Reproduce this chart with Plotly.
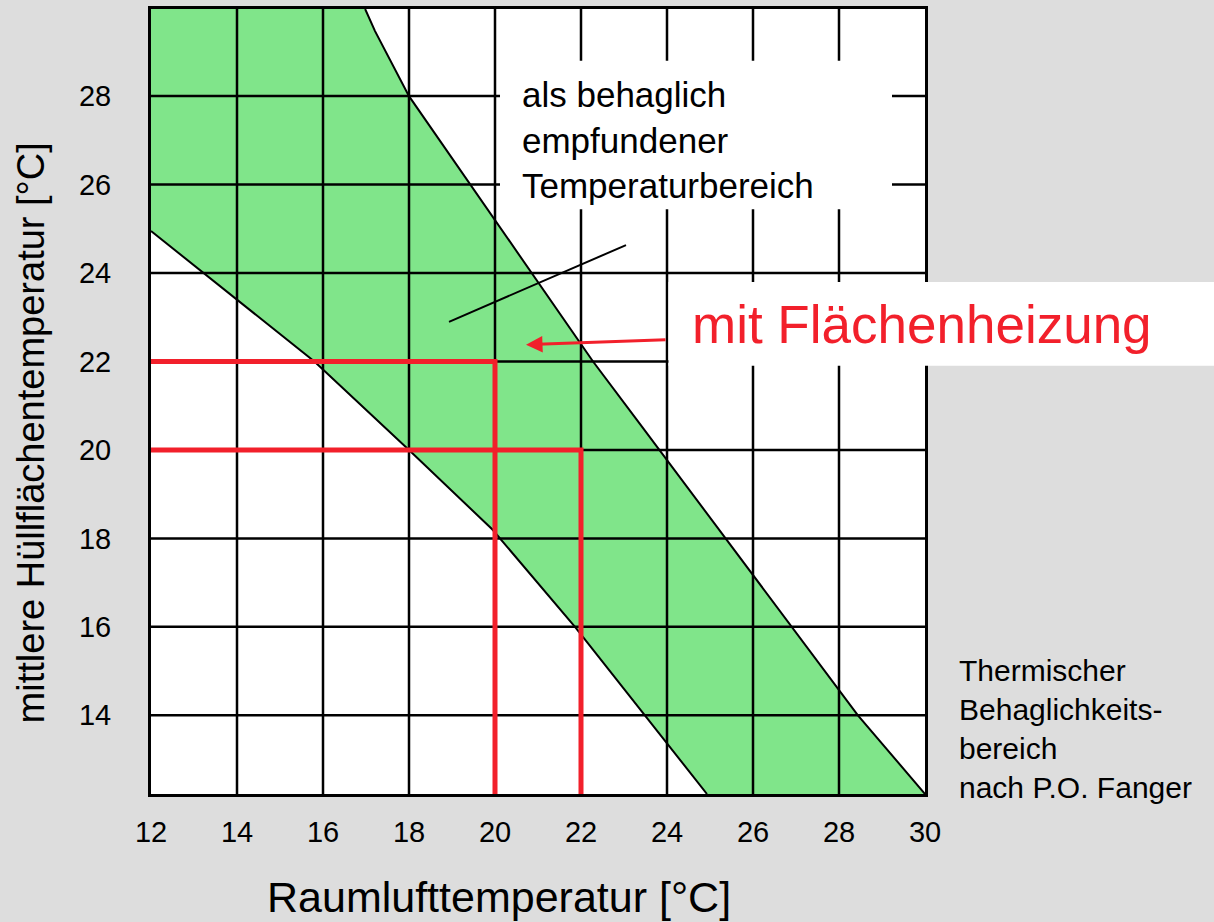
import plotly.graph_objects as go

# ---- data ----
x_ticks = [12, 14, 16, 18, 20, 22, 24, 26, 28, 30]
y_ticks = [14, 16, 18, 20, 22, 24, 26, 28]
x_range = [12, 30]
y_range = [12.22, 29.97]

# upper boundary of comfort zone (Raumluft, Hüllfläche)
upper_x = [16.98, 17.21, 18.0, 22.28, 23.4, 26.9, 28.44, 30.0]
upper_y = [29.97, 29.47, 28.0, 22.0, 20.55, 16.0, 14.0, 12.22]
# lower boundary of comfort zone
lower_x = [12.0, 15.8, 18.0, 19.94, 21.86, 23.49, 24.93]
lower_y = [24.95, 22.0, 20.0, 18.2, 16.0, 14.0, 12.22]

# red operating points (Raumluft, Hüllfläche)
red_air = [20, 22]
red_surface = [22, 20]

FONT = "Liberation Sans, Arial, sans-serif"
GREEN = "#80E58A"
RED = "#F2202B"
BG = "#DDDDDD"

fig = go.Figure()

# green comfort area
poly_x = [x_range[0]] + upper_x + lower_x[::-1]
poly_y = [y_range[1]] + upper_y + lower_y[::-1]
fig.add_trace(go.Scatter(x=poly_x, y=poly_y, fill="toself", fillcolor=GREEN,
                         mode="lines", line=dict(width=0), hoverinfo="skip"))

# grid drawn above the fill
gx, gy = [], []
for v in x_ticks[1:-1]:
    gx += [v, v, None]
    gy += [y_range[0], y_range[1], None]
for v in y_ticks:
    gx += [x_range[0], x_range[1], None]
    gy += [v, v, None]
fig.add_trace(go.Scatter(x=gx, y=gy, mode="lines", line=dict(color="black", width=2.5),
                         hoverinfo="skip"))

# boundary lines
fig.add_trace(go.Scatter(x=upper_x, y=upper_y, mode="lines", line=dict(color="black", width=2)))
fig.add_trace(go.Scatter(x=lower_x, y=lower_y, mode="lines", line=dict(color="black", width=2)))

# red lines
for a, s in zip(red_air, red_surface):
    fig.add_trace(go.Scatter(x=[x_range[0], a, a], y=[s, s, y_range[0]], mode="lines",
                             line=dict(color=RED, width=5)))

W, H = 1214, 922
ML, MR, MT, MB = 151, 289, 6, 128
PW, PH = W - ML - MR, H - MT - MB


def px(x):
    return (x - ML) / PW


def py(y):
    return (H - MB - y) / PH


shapes = [
    dict(type="rect", xref="paper", yref="paper", x0=px(500), x1=px(892), y0=py(207), y1=py(58),
         fillcolor="white", line=dict(width=0), layer="above"),
    dict(type="rect", xref="paper", yref="paper", x0=px(668.5), x1=px(1260), y0=py(364), y1=py(280),
         fillcolor="white", line=dict(width=0), layer="above"),
    dict(type="line", xref="paper", yref="paper", x0=px(626), y0=py(243), x1=px(449), y1=py(320),
         line=dict(color="black", width=2), layer="above"),
]

annotations = [
    dict(xref="paper", yref="paper", x=px(520), y=py(137), xanchor="left", yanchor="middle",
         align="left", showarrow=False,
         text="als behaglich<br>empfundener<br>Temperaturbereich",
         font=dict(family=FONT, size=35, color="black")),
    dict(xref="paper", yref="paper", x=px(690), y=py(323), xanchor="left", yanchor="middle",
         showarrow=False, text="mit Flächenheizung",
         font=dict(family=FONT, size=53, color=RED)),
    dict(xref="paper", yref="paper", x=px(526), y=py(343), text="", showarrow=True,
         ax=141, ay=-5, arrowhead=2, arrowsize=1.1, arrowwidth=3, arrowcolor=RED, standoff=0),
    dict(xref="paper", yref="paper", x=px(957), y=py(729), xanchor="left", yanchor="middle",
         align="left", showarrow=False,
         text="Thermischer<br>Behaglichkeits-<br>bereich<br>nach P.O. Fanger",
         font=dict(family=FONT, size=30, color="black")),
    dict(xref="paper", yref="paper", x=px(499), y=py(897), xanchor="center", yanchor="middle",
         showarrow=False, text="Raumlufttemperatur [°C]",
         font=dict(family=FONT, size=43, color="black")),
    dict(xref="paper", yref="paper", x=px(31), y=py(432), xanchor="center", yanchor="middle",
         showarrow=False, textangle=-90, text="mittlere Hüllflächentemperatur [°C]",
         font=dict(family=FONT, size=38, color="black")),
]

fig.update_layout(
    width=W, height=H,
    margin=dict(l=ML, r=MR, t=MT, b=MB),
    paper_bgcolor=BG, plot_bgcolor="white",
    showlegend=False,
    shapes=shapes, annotations=annotations,
    xaxis=dict(range=x_range, tickvals=x_ticks, ticktext=[str(v) for v in x_ticks],
               showgrid=False, zeroline=False, showline=True, mirror=True,
               linecolor="black", linewidth=3, ticks="", ticklabelstandoff=10,
               tickfont=dict(family=FONT, size=29, color="black"), fixedrange=True),
    yaxis=dict(range=y_range, tickvals=y_ticks, ticktext=[str(v) for v in y_ticks],
               showgrid=False, zeroline=False, showline=True, mirror=True,
               linecolor="black", linewidth=3, ticks="", ticklabelstandoff=31,
               tickfont=dict(family=FONT, size=29, color="black"), fixedrange=True),
)

fig.write_html("out.html", config={"displayModeBar": False},
               post_script="document.body.style.margin='0';document.body.style.padding='0';")
